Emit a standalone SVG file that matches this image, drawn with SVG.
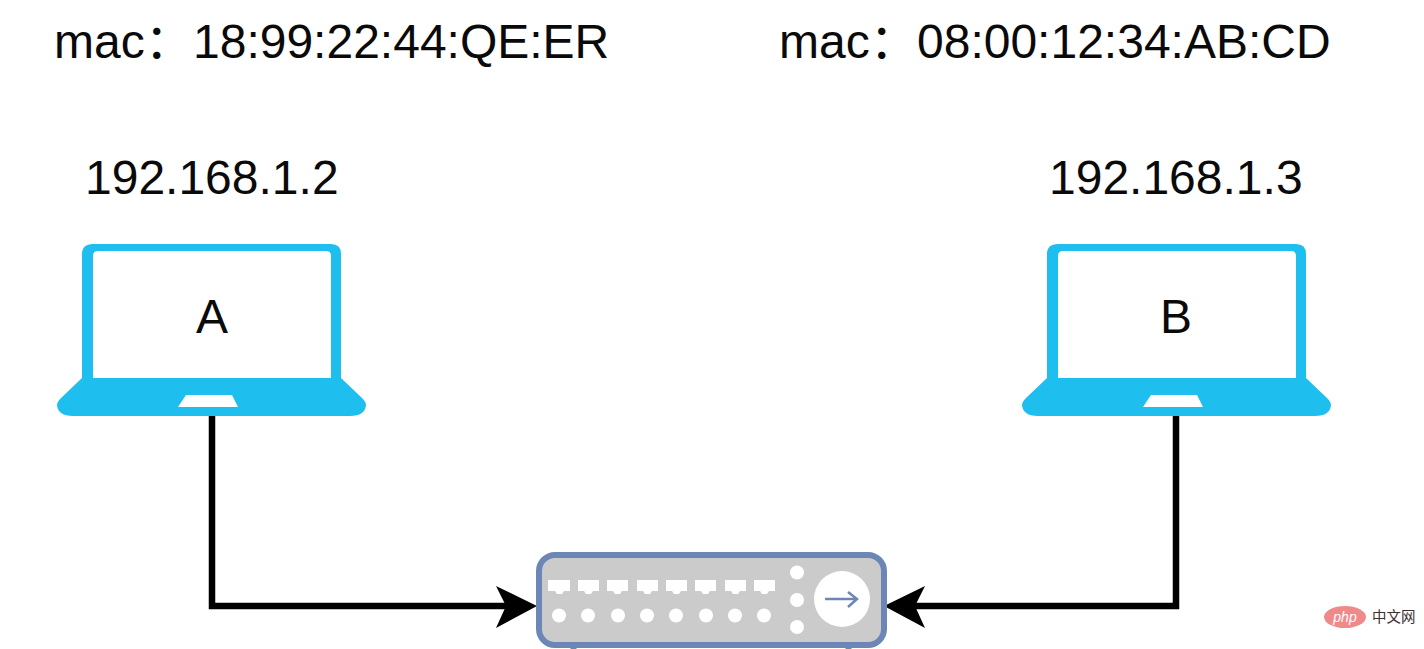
<svg xmlns="http://www.w3.org/2000/svg" width="1424" height="649" viewBox="0 0 1424 649">
<style>
.t{font-family:"Liberation Sans",Arial,"Noto Sans CJK SC",sans-serif;fill:#0a0a0a}
.big{font-size:48px}
.blue{fill:#1ebeee}
.w{fill:#fff}
.c{fill:none;stroke:#000;stroke-width:6.5}
.h{fill:#000}
.wm{font-family:"Noto Sans CJK SC",sans-serif;font-size:14.5px;fill:#3a3030}
</style>
<defs>
<g id="laptop">
<path class="blue" d="M93 244H331Q341 244 341 254V378L362 398Q366 402 366 405Q365 416 350 416H73Q58 416 57 405Q57 402 61 398L82 378V254Q82 244 93 244Z"/>
<path class="w" d="M98 251H326Q331 251 331 256V378H93V256Q93 251 98 251Z"/>
<path class="w" d="M186 395H232L238 407H178Z"/>
</g>
</defs>
<rect width="1424" height="649" fill="#fff"/>
<g id="connectors">
<path class="c" d="M212 416V606H510"/>
<path class="c" d="M1176 416V606H912"/>
<path class="h" d="M537 606L496 586L506 606L496 628Z"/>
<path class="h" d="M884 606L925 586L915 606L925 628Z"/>
</g>
<g id="node-a">
<use href="#laptop"/>
<text class="t big" x="212" y="333" text-anchor="middle">A</text>
<text class="t big" x="85" y="194">192.168.1.2</text>
<text class="t big" x="54" y="58">mac：</text>
<text class="t big" x="193" y="58">18:99:22:44:QE:ER</text>
</g>
<g id="node-b">
<use href="#laptop" x="965"/>
<text class="t big" x="1176" y="333" text-anchor="middle">B</text>
<text class="t big" x="1049" y="194">192.168.1.3</text>
<text class="t big" x="779" y="58">mac：</text>
<text class="t big" x="917" y="58">08:00:12:34:AB:CD</text>
</g>
<g id="switch">
<path d="M573.500 646V649M848.500 646V649" stroke="#6c87b5" stroke-width="6" fill="none"/>
<rect x="539" y="555" width="345" height="90" rx="16" fill="#cccbcc" stroke="#6c87b5" stroke-width="6"/>
<g class="w">
<path d="M548 580H570V591H564L562 594H557L555 591H548Z"/>
<path d="M578 580H599V591H593L591 594H586L584 591H578Z"/>
<path d="M607 580H628V591H622L620 594H615L613 591H607Z"/>
<path d="M637 580H658V591H652L650 594H645L643 591H637Z"/>
<path d="M666 580H687V591H681L679 594H674L672 591H666Z"/>
<path d="M695 580H716V591H710L708 594H703L701 591H695Z"/>
<path d="M725 580H746V591H740L738 594H733L731 591H725Z"/>
<path d="M754 580H775V591H769L767 594H762L760 591H754Z"/>
<circle cx="559" cy="615.500" r="7"/><circle cx="588" cy="615.500" r="7"/><circle cx="618" cy="615.500" r="7"/><circle cx="647" cy="615.500" r="7"/><circle cx="676" cy="615.500" r="7"/><circle cx="706" cy="615.500" r="7"/><circle cx="735" cy="615.500" r="7"/><circle cx="764" cy="615.500" r="7"/>
<circle cx="797" cy="572.500" r="7"/><circle cx="797" cy="600" r="7"/><circle cx="797" cy="627" r="7"/>
<circle cx="842" cy="599" r="28"/>
</g>
<path d="M825 599H856M848 592L857 599L848 607" fill="none" stroke="#6c87b5" stroke-width="2.500"/>
</g>
<g id="watermark">
<ellipse cx="1345" cy="617" rx="21" ry="11" fill="#f08a8a"/>
<text x="1345" y="622" text-anchor="middle" font-family="Liberation Sans,sans-serif" font-style="italic" font-size="14" fill="#fff">php</text>
<text class="wm" x="1372" y="622">中文网</text>
</g>
</svg>
